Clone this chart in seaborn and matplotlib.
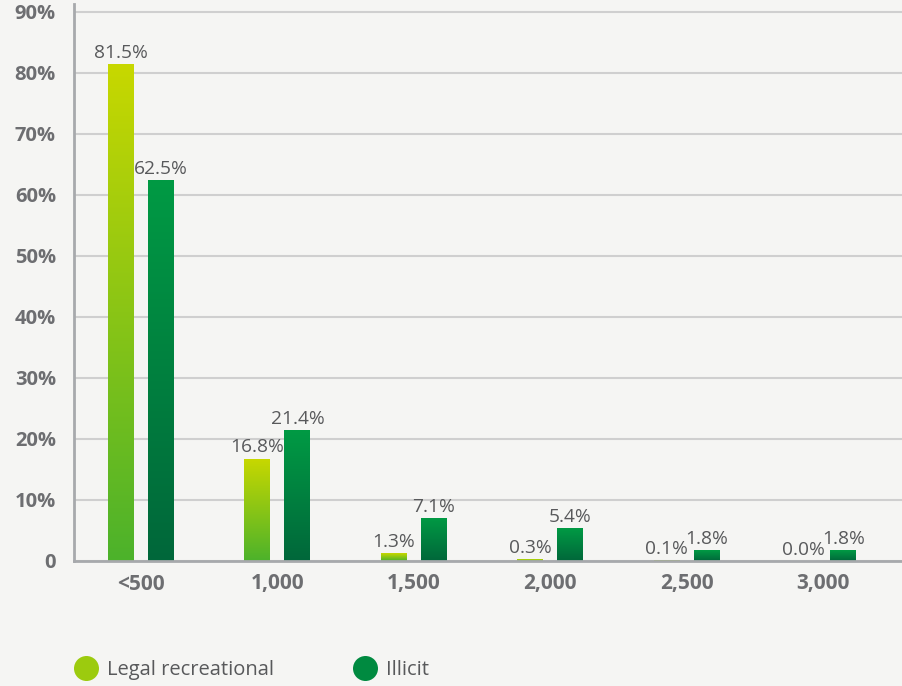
import matplotlib
matplotlib.use("Agg")
import matplotlib.pyplot as plt
from matplotlib.colors import LinearSegmentedColormap
from matplotlib.lines import Line2D
import numpy as np
import pandas as pd
import seaborn as sns

categories = ["<500", "1,000", "1,500", "2,000", "2,500", "3,000"]
legal = [81.5, 16.8, 1.3, 0.3, 0.1, 0.0]
illicit = [62.5, 21.4, 7.1, 5.4, 1.8, 1.8]
series = ["Legal recreational", "Illicit"]
y_ticks = [0, 10, 20, 30, 40, 50, 60, 70, 80, 90]
y_ticklabels = ["0", "10%", "20%", "30%", "40%", "50%", "60%", "70%", "80%", "90%"]

df = pd.DataFrame({
    "category": categories * 2,
    "value": legal + illicit,
    "series": [series[0]] * len(categories) + [series[1]] * len(categories),
})

BG = "#f5f5f3"
grad_colors = {
    series[0]: ("#4cb22b", "#c8d800"),  # bottom, top
    series[1]: ("#00673a", "#009a44"),
}

sns.set_theme(style="white")
plt.rcParams["font.family"] = ["Open Sans", "DejaVu Sans"]

fig = plt.figure(figsize=(9.02, 6.86), dpi=100, facecolor=BG)
ax = fig.add_axes([74 / 902, 125 / 686, 828 / 902, 557 / 686])
ax.set_facecolor(BG)

palette = {series[0]: "#8cc416", series[1]: "#00803c"}
sns.barplot(data=df, x="category", y="value", hue="series", order=categories,
            hue_order=series, palette=palette, width=0.586, gap=0.35,
            legend=False, ax=ax, zorder=3)

xlim = (-0.49, 5.576)
ylim = (0, 91.3)

for cont, name in zip(ax.containers, series):
    cmap = LinearSegmentedColormap.from_list(name, list(grad_colors[name]))
    grad = np.linspace(0, 1, 256).reshape(-1, 1)
    for patch in cont:
        x, w, h = patch.get_x(), patch.get_width(), patch.get_height()
        if h > 0:
            patch.set_facecolor("none")
            patch.set_edgecolor("none")
            im = ax.imshow(grad, extent=[x, x + w, 0, h], origin="lower",
                           aspect="auto", cmap=cmap, zorder=3)
            im.set_clip_path(patch)
        ax.annotate(f"{h:.1f}%", (x + w / 2, h), xytext=(0, 1.5),
                    textcoords="offset points", ha="center", va="bottom",
                    fontsize=13.8, color="#58595b", zorder=4)

ax.set_xlim(*xlim)
ax.set_ylim(*ylim)
ax.set_yticks(y_ticks)
ax.set_yticklabels(y_ticklabels)
ax.set_xlabel("")
ax.set_ylabel("")
ax.grid(axis="y", color="#cfcfcf", linewidth=1.5, zorder=0)
ax.grid(axis="x", visible=False)
for s in ["top", "right"]:
    ax.spines[s].set_visible(False)
for s in ["left", "bottom"]:
    ax.spines[s].set_color("#a7a9ac")
    ax.spines[s].set_linewidth(2)
    ax.spines[s].set_zorder(5)
ax.tick_params(axis="both", length=0, labelcolor="#6d6e71")
ax.tick_params(axis="y", pad=13, labelsize=14.5)
ax.tick_params(axis="x", pad=9, labelsize=15)
for lab in ax.get_xticklabels() + ax.get_yticklabels():
    lab.set_fontweight("bold")

handles = [Line2D([], [], marker="o", linestyle="none", markersize=18,
                  markerfacecolor=c, markeredgecolor="none")
           for c in ["#9ccb0e", "#008a40"]]
fig.legend(handles, series, loc="center left", bbox_to_anchor=(56 / 902, 1 - 670 / 686),
           ncol=2, frameon=False, fontsize=14.5, labelcolor="#58595b",
           handlelength=1.2, handletextpad=0.45, columnspacing=3.9)

fig.savefig("out.png", dpi=100, facecolor=BG)
